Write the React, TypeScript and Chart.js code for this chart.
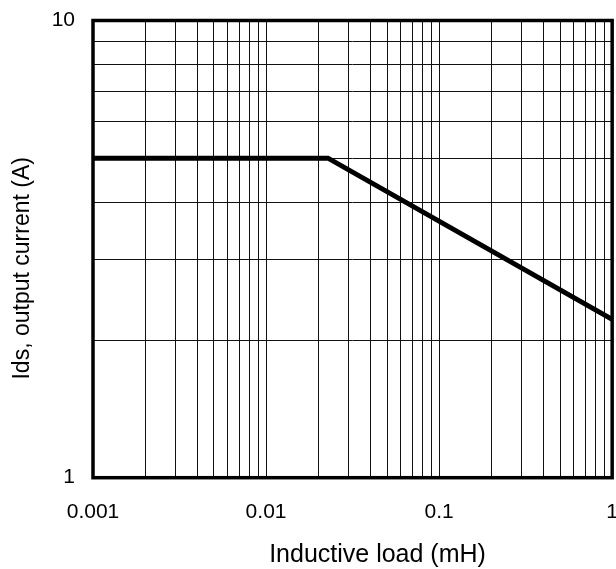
import React, { useEffect, useRef } from "react";
import { Chart, registerables } from "chart.js";

Chart.register(...registerables);

// ---- data ----
const inductanceMH = [0.001, 0.0228, 1];
const outputCurrentA = [5, 5, 2.22];

// grid / tick positions (log decades with 2..9 minors)
const xGridValues = [
  0.001, 0.002, 0.003, 0.004, 0.005, 0.006, 0.007, 0.008, 0.009,
  0.01, 0.02, 0.03, 0.04, 0.05, 0.06, 0.07, 0.08, 0.09,
  0.1, 0.2, 0.3, 0.4, 0.5, 0.6, 0.7, 0.8, 0.9, 1,
];
const yGridValues = [1, 2, 3, 4, 5, 6, 7, 8, 9, 10];

const xTickValues = [0.001, 0.01, 0.1, 1];
const xTickLabels = ["0.001", "0.01", "0.1", "1"];
const yTickValues = [1, 10];
const yTickLabels = ["1", "10"];

const xTitle = "Inductive load (mH)";
const yTitle = "Ids, output current (A)";

const FONT = "'Liberation Sans', Arial, Helvetica, sans-serif";

function labelFor(values: number[], labels: string[], v: number): string {
  const i = values.findIndex((t) => Math.abs(t - v) / t < 1e-6);
  return i >= 0 ? labels[i] : "";
}

const framePlugin = {
  id: "frameAndTitles",
  beforeDatasetsDraw(chart: any) {
    const { ctx, chartArea } = chart;
    ctx.save();
    ctx.strokeStyle = "#000";
    ctx.lineWidth = 3.5;
    ctx.strokeRect(
      chartArea.left,
      chartArea.top,
      chartArea.right - chartArea.left,
      chartArea.bottom - chartArea.top
    );
    ctx.restore();
  },
  afterDraw(chart: any) {
    const { ctx } = chart;
    ctx.save();
    ctx.fillStyle = "#000";
    ctx.textAlign = "center";
    ctx.textBaseline = "alphabetic";
    ctx.font = `25px ${FONT}`;
    ctx.fillText(xTitle, 377.5, 562);
    ctx.translate(29, 268.3);
    ctx.rotate(-Math.PI / 2);
    ctx.font = `23px ${FONT}`;
    ctx.fillText(yTitle, 0, 0);
    ctx.restore();
  },
};

export default function App() {
  const ref = useRef<HTMLCanvasElement | null>(null);

  useEffect(() => {
    if (!ref.current) return;
    const chart = new Chart(ref.current, {
      type: "line",
      data: {
        datasets: [
          {
            data: inductanceMH.map((x, i) => ({ x, y: outputCurrentA[i] })),
            borderColor: "#000",
            borderWidth: 5,
            pointRadius: 0,
            tension: 0,
            borderJoinStyle: "miter",
            fill: false,
          },
        ],
      },
      options: {
        animation: false,
        responsive: false,
        maintainAspectRatio: false,
        events: [],
        layout: { padding: { left: 0, top: 20.5, right: 27.5, bottom: 0 } },
        plugins: {
          legend: { display: false },
          tooltip: { enabled: false },
          title: { display: false },
        },
        scales: {
          x: {
            type: "logarithmic",
            min: 0.001,
            max: 1,
            afterBuildTicks: (s: any) => {
              s.ticks = xGridValues.map((value) => ({ value }));
            },
            afterFit: (s: any) => {
              s.height = 569 - 477.7;
            },
            grid: { color: "#111", lineWidth: 1, drawTicks: false },
            border: { display: false },
            ticks: {
              autoSkip: false,
              maxRotation: 0,
              minRotation: 0,
              padding: 22,
              color: "#000",
              font: { family: FONT, size: 21 },
              callback: (v: any) => labelFor(xTickValues, xTickLabels, Number(v)),
            },
          },
          y: {
            type: "logarithmic",
            min: 1,
            max: 10,
            afterBuildTicks: (s: any) => {
              s.ticks = yGridValues.map((value) => ({ value }));
            },
            afterFit: (s: any) => {
              s.width = 93;
              s.paddingTop = 0;
              s.paddingBottom = 0;
            },
            grid: { color: "#111", lineWidth: 1, drawTicks: false },
            border: { display: false },
            ticks: {
              autoSkip: false,
              padding: 18,
              color: "#000",
              font: { family: FONT, size: 21 },
              callback: (v: any) => labelFor(yTickValues, yTickLabels, Number(v)),
            },
          },
        },
      },
      plugins: [framePlugin],
    } as any);
    return () => chart.destroy();
  }, []);

  return (
    <div
      style={{
        position: "fixed",
        left: 0,
        top: 0,
        width: 616,
        height: 569,
        overflow: "hidden",
        background: "#fff",
      }}
    >
      <canvas ref={ref} width={640} height={569} style={{ display: "block", width: 640, height: 569 }} />
    </div>
  );
}
